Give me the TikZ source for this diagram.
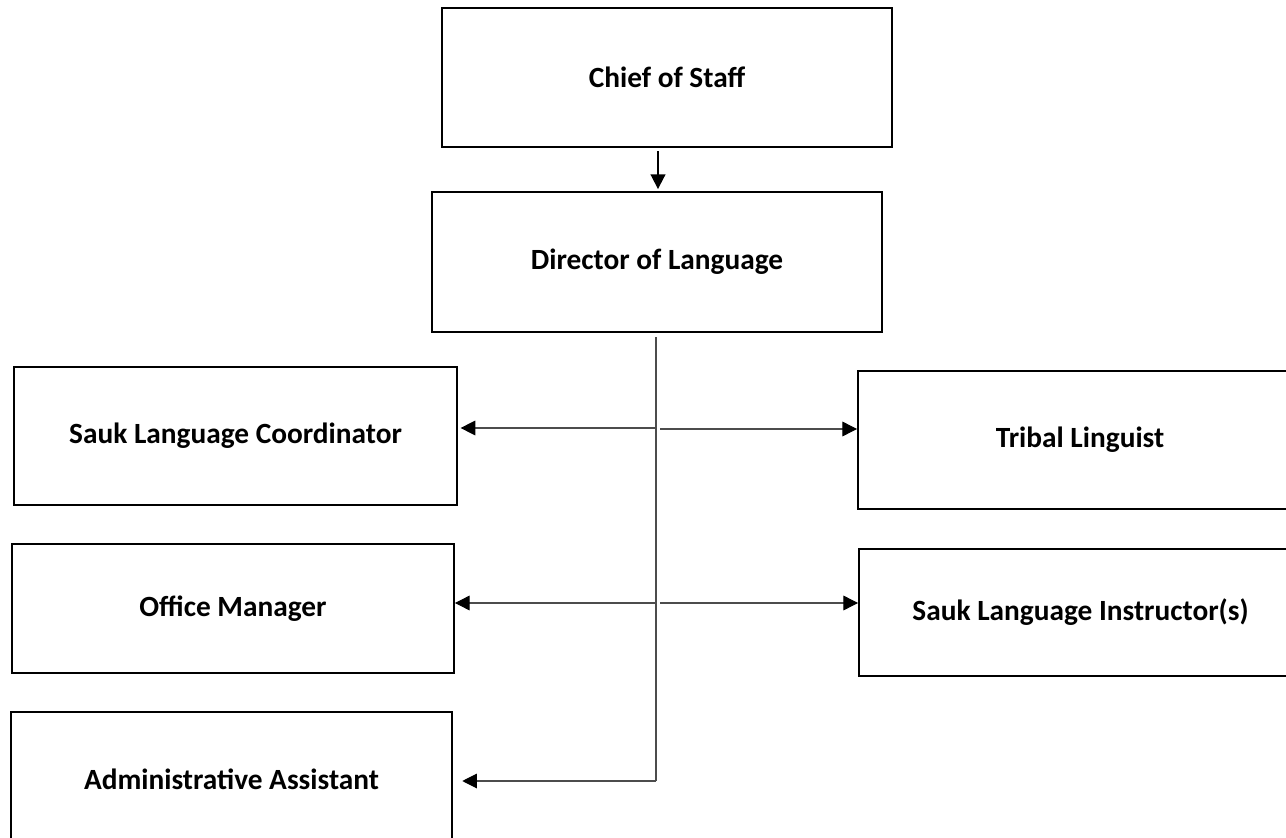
\documentclass[tikz,border=0pt]{standalone}
\usepackage{fontspec}
\setmainfont{Carlito}
\usepackage{tikz}
\usetikzlibrary{arrows.meta,positioning}

\tikzset{
  post/.style={box/.style={draw,line width=1.4pt,rectangle,align=center,
      font=\fontsize{22}{26}\selectfont\bfseries}},
}

\begin{document}
\begin{tikzpicture}[x=0.75pt,y=-0.75pt,post,
    ->,>={Triangle[length=11pt,width=11pt,color=black,fill=black]},line width=0.8pt]
  \useasboundingbox (0,0) rectangle (1286,838);
  \node[box,minimum width=337.5pt,minimum height=104.25pt]  (chief)      at (667,77.5)   {Chief of Staff};
  \node[box,minimum width=337.5pt,minimum height=105pt]     (director)   at (657,262)    {Director of Language};
  \node[box,minimum width=332.25pt,minimum height=103.5pt]  (coord)      at (235.5,436)  {Sauk Language Coordinator};
  \node[box,minimum width=333pt,minimum height=103.5pt]     (linguist)   at (1080,440)   {Tribal Linguist};
  \node[box,minimum width=331.5pt,minimum height=96.75pt]   (office)     at (233,608.5)  {Office Manager};
  \node[box,minimum width=332.25pt,minimum height=95.25pt]  (instructor) at (1080.5,612.5) {Sauk Language Instructor(s)};
  \node[box,minimum width=330.75pt,minimum height=100.5pt]  (admin)      at (231.5,779)  {Administrative Assistant};

  % trunk below the director
  \coordinate (top)  at (656,337);
  \coordinate (bot)  at (656,781);
  \coordinate (jl1)  at (656,428);
  \coordinate (jr1)  at (660,429);
  \coordinate (jl2)  at (656,603);
  \coordinate (jr2)  at (660,603);

  \draw[line width=1.4pt,shorten <=2.5pt,shorten >=1.5pt] (chief.south -| 658,0) -- (director.north -| 658,0);
  \draw[-,black!70] (top) -- (bot);
  \path[black!70]
    (jl1) edge[shorten >=2pt] (jl1 -| coord.east)
    (jr1) edge (jr1 -| linguist.west)
    (jl2) edge (jl2 -| office.east)
    (jr2) edge (jr2 -| instructor.west)
    (bot) edge[shorten >=7pt] (bot -| admin.east);
\end{tikzpicture}
\end{document}
